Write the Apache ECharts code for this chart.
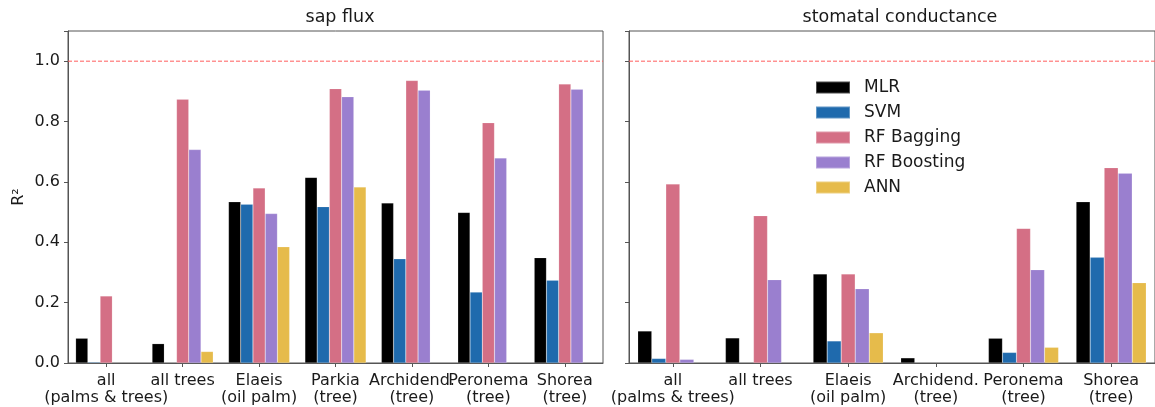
<!DOCTYPE html>
<html>
<head>
<meta charset="utf-8">
<script src="https://cdn.jsdelivr.net/npm/echarts@6/dist/echarts.min.js"></script>
<style>
  html, body { margin: 0; padding: 0; background: #ffffff; }
  #chart { width: 1155px; height: 407px; }
</style>
</head>
<body>
<div id="chart"></div>
<script>
// Model names (legend order) and their bar colours
const models = ['MLR', 'SVM', 'RF Bagging', 'RF Boosting', 'ANN'];
const modelColors = ['#000000', '#1f6aad', '#d46f85', '#9a7fcf', '#e6bb4b'];

// Sap flux panel: categories and R² per model (null = no bar)
const sapCategories = ['all\n(palms & trees)', 'all trees', 'Elaeis\n(oil palm)', 'Parkia\n(tree)',
  'Archidend.\n(tree)', 'Peronema\n(tree)', 'Shorea\n(tree)'];
const sapMLR      = [0.082, 0.064, 0.534, 0.615, 0.530, 0.499, 0.349];
const sapSVM      = [0.003, null,  0.526, 0.518, 0.345, 0.235, 0.274];
const sapBagging  = [0.222, 0.874, 0.580, 0.909, 0.936, 0.796, 0.924];
const sapBoosting = [null,  0.707, 0.495, 0.882, 0.904, 0.679, 0.907];
const sapANN      = [null,  0.038, 0.385, 0.583, null,  null,  null];

// Stomatal conductance panel
const gsCategories = ['all\n(palms & trees)', 'all trees', 'Elaeis\n(oil palm)',
  'Archidend.\n(tree)', 'Peronema\n(tree)', 'Shorea\n(tree)'];
const gsMLR      = [0.106, 0.083, 0.295, 0.017, 0.082, 0.534];
const gsSVM      = [0.015, null,  0.073, null,  0.035, 0.350];
const gsBagging  = [0.593, 0.488, 0.295, null,  0.446, 0.647];
const gsBoosting = [0.012, 0.276, 0.246, null,  0.309, 0.629];
const gsANN      = [null,  null,  0.100, null,  0.052, 0.266];

// Y axis ticks and the reference level for a perfect fit
const yTicks = [0.0, 0.2, 0.4, 0.6, 0.8, 1.0];
const perfectFit = 1.0;

const FONT = 'DejaVu Sans';
const TEXT = '#1a1a1a';
const FRAME = '#555555';
const REF_COLOR = '#ff5c5c';

const sapSeries = [sapMLR, sapSVM, sapBagging, sapBoosting, sapANN];
const gsSeries = [gsMLR, gsSVM, gsBagging, gsBoosting, gsANN];

// Dashed line at R² = 1 across the full panel width, drawn on a hidden 0..1 x axis
function refLineSeries(gridIdx) {
  return {
    name: 'perfect fit',
    type: 'line',
    xAxisIndex: 2 + gridIdx,
    yAxisIndex: gridIdx,
    data: [[0, perfectFit], [1, perfectFit]],
    symbol: 'none',
    silent: true,
    z: 1,
    lineStyle: { color: REF_COLOR, type: [4, 2], width: 1 },
    emphasis: { disabled: true }
  };
}

function makeSeries(values, gridIdx) {
  return values.map((vals, i) => ({
    name: models[i],
    type: 'bar',
    xAxisIndex: gridIdx,
    yAxisIndex: gridIdx,
    data: vals,
    barGap: '0%',
    barCategoryGap: '20%',
    z: 2,
    itemStyle: { color: modelColors[i], borderColor: 'rgba(255,255,255,0.3)', borderWidth: 0.5 },
    emphasis: { disabled: true }
  }));
}

function xAxis(gridIdx, cats) {
  return {
    type: 'category',
    gridIndex: gridIdx,
    data: cats,
    axisLine: { show: true, lineStyle: { color: FRAME, width: 1 } },
    axisTick: { show: true, alignWithLabel: true, length: 4, lineStyle: { color: FRAME } },
    axisLabel: { color: TEXT, fontFamily: FONT, fontSize: 16, lineHeight: 17, margin: 9, interval: 0 },
    splitLine: { show: false }
  };
}

function hiddenSpanAxis(gridIdx) {
  return { type: 'value', gridIndex: gridIdx, min: 0, max: 1, show: false, splitLine: { show: false } };
}

function yAxis(gridIdx, showLabels) {
  return {
    type: 'value',
    gridIndex: gridIdx,
    min: 0,
    max: 1.1,
    interval: 0.2,
    axisLine: { show: true, lineStyle: { color: FRAME, width: 1 } },
    axisTick: { show: true, length: 4, lineStyle: { color: FRAME } },
    axisLabel: {
      show: showLabels, color: TEXT, fontFamily: FONT, fontSize: 16, margin: 8,
      formatter: v => (yTicks.some(t => Math.abs(t - v) < 1e-9) ? v.toFixed(1) : '')
    },
    splitLine: { show: false },
    name: showLabels ? 'R²' : '',
    nameLocation: 'middle',
    nameGap: 41,
    nameTextStyle: { color: TEXT, fontFamily: FONT, fontSize: 16 }
  };
}

const chart = echarts.init(document.getElementById('chart'), null, { renderer: 'canvas' });
chart.setOption({
  animation: false,
  backgroundColor: '#ffffff',
  title: [
    { text: 'sap flux', left: 335, top: 3, textAlign: 'center',
      textStyle: { color: TEXT, fontFamily: FONT, fontSize: 17.5, fontWeight: 'normal' } },
    { text: 'stomatal conductance', left: 895, top: 3, textAlign: 'center',
      textStyle: { color: TEXT, fontFamily: FONT, fontSize: 17.5, fontWeight: 'normal' } }
  ],
  legend: {
    data: models,
    orient: 'vertical',
    left: 815,
    top: 79,
    padding: 0,
    icon: 'rect',
    itemWidth: 34,
    itemHeight: 12,
    itemGap: 8,
    textStyle: { color: TEXT, fontFamily: FONT, fontSize: 17, lineHeight: 17, padding: [0, 0, 0, 9] }
  },
  grid: [
    { left: 68, top: 31, width: 535, height: 332, show: true, borderColor: FRAME, borderWidth: 1 },
    { left: 629, top: 31, width: 533, height: 332, show: true, borderColor: FRAME, borderWidth: 1 }
  ],
  xAxis: [xAxis(0, sapCategories), xAxis(1, gsCategories), hiddenSpanAxis(0), hiddenSpanAxis(1)],
  yAxis: [yAxis(0, true), yAxis(1, false)],
  series: [...makeSeries(sapSeries, 0), ...makeSeries(gsSeries, 1), refLineSeries(0), refLineSeries(1)]
});
</script>
</body>
</html>
